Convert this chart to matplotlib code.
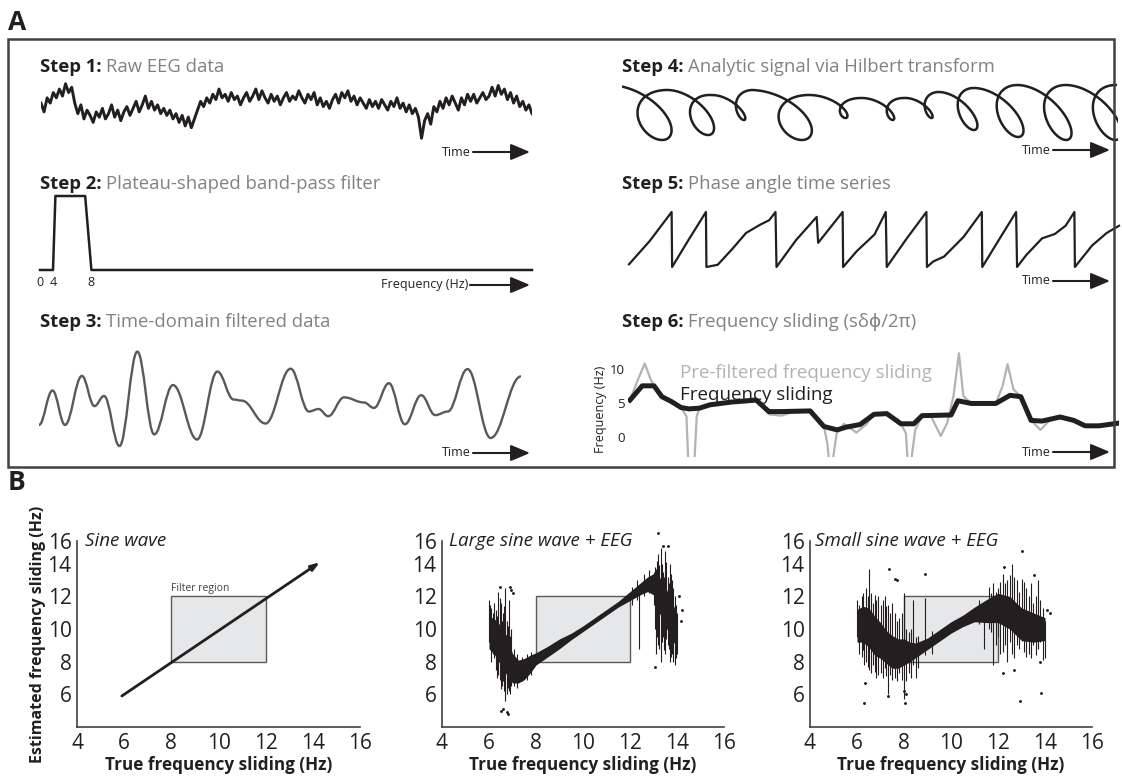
import numpy as np
import matplotlib
matplotlib.use('Agg')
import matplotlib.pyplot as plt
from matplotlib.patches import Rectangle, PathPatch, FancyArrowPatch
from matplotlib.path import Path
from matplotlib.text import Annotation

plt.rcParams['font.family'] = ['Open Sans', 'DejaVu Sans']

W, H = 1122, 777
INK = '#231f20'
GREY_TXT = '#808285'

# ---- panel A data (schematic signals) ----
# step 1: raw EEG, evenly sampled over the time window
eeg = [1.0, -1.5, 2.5, 1.0, 4.0, 2.5, 5.0, 3.0, 6.5, 4.0,
       5.5, 1.0, -2.0, 0.5, -3.5, -1.0, -2.5, -4.5, -1.5, -3.0,
       -0.5, -3.5, -2.0, 0.5, -3.0, -1.0, -4.0, -1.5, 0.0, -2.5,
       -0.5, 1.5, -1.5, 0.5, 3.0, -0.5, 1.5, -1.0, 0.5, -2.0,
       -0.5, -2.5, -1.0, -3.5, -2.0, -4.5, -2.5, -5.5, -3.0, -6.0,
       -3.5, -1.0, 1.5, 0.0, 2.5, 1.0, 3.5, 2.0, 5.0, 2.5,
       3.5, 1.5, 4.0, 2.0, 3.0, 0.5, 2.5, 4.0, 1.5, 3.0,
       5.0, 2.0, 4.5, 2.5, 1.0, 3.5, 1.5, 3.0, 0.5, 2.5,
       4.0, 1.5, 3.0, 2.0, 4.5, 2.5, 1.0, 3.5, 2.0, 4.0,
       0.5, 2.5, 0.0, 1.5, -0.5, 2.0, 3.5, 1.0, 4.0, 2.5,
       4.5, 1.5, 3.0, 0.5, 2.5, 1.0, -0.5, 2.0, 0.0, 1.5,
       -0.5, 2.0, 0.5, -1.0, 1.5, 0.0, 2.5, -0.5, 1.0, -1.5,
       0.5, -2.0, -0.5, -3.0, -9.0, -4.0, -2.0, -5.0, 0.0, -1.5,
       1.5, -0.5, 2.5, 0.5, 3.0, 1.0, -1.0, 2.5, 0.5, 3.5,
       1.5, 3.5, 1.0, 2.5, 4.0, 2.0, 3.0, 5.5, 3.0, 6.0,
       3.5, 5.0, 2.0, 4.0, 1.0, 3.0, 0.0, 1.5, -1.0, 0.5,
       -2.0]

# step 2: band-pass filter shape
filt_freq = [0, 4.0, 4.25, 7.35, 8.0, 53.9]
filt_gain = [0, 0, 1, 1, 0, 0]
filt_ticks = [0, 4, 8]

# step 3: filtered data, successive extrema
wave_t = [0, 2.8, 5.4, 8.9, 11.5, 13.5, 16.7, 20.4, 23.9, 27.8,
          32.8, 37.0, 40.4, 42.1, 47.0, 52.2, 56.0, 58.0, 60.0, 63.3,
          67.4, 69.5, 72.6, 75.9, 79.3, 82.2, 84.8, 88.9, 93.7, 100]
wave_v = [-1.73, 1.43, -1.73, 2.77, 0.0, 0.93, -3.67, 5.0, -2.6, 1.93,
          -3.07, 3.17, 0.6, 0.5, -1.6, 3.43, -0.5, -0.27, -0.93, 0.8,
          0.33, -0.17, 2.1, -1.67, 1.0, -0.83, -0.5, 3.4, -2.93, 2.73]

# step 4: analytic signal loops (cycle edges, arc heights, loop bottoms, loop widths)
loop_edges = [0, 11.3, 19.4, 28.2, 39.5, 49.6, 58.1, 65.5, 73.0, 82.1, 91.9, 102.0]
loop_top = [55, 50, 45, 50, 45, 42, 42, 48, 52, 55, 55, 55]
loop_bottom = [0, 5, 20, 0, 22, 20, 22, 10, 3, 0, 0]
loop_xamp = [5.6, 3.9, 2.4, 5.6, 2.7, 2.3, 2.0, 3.1, 4.1, 4.3, 4.5]
loop_shear = 0.45

# step 5: phase angle (rad)
saw_t = [0, 4.2, 8.7, 8.8, 12.2, 15.7, 15.8, 18.1, 21.0, 23.9,
         26.8, 28.6, 29.9, 30.1, 34.1, 38.3, 38.6, 43.6, 43.7, 46.5,
         50.1, 52.4, 52.6, 56.7, 60.7, 60.8, 62.1, 64.3, 68.3, 72.0,
         72.1, 75.6, 79.0, 79.2, 81.1, 84.3, 86.9, 89.1, 90.9, 91.0,
         94.5, 97.5, 100]
saw_phase = [-2.83, -0.19, 3.14, -3.14, 0.0, 3.14, -3.14, -2.89, -1.13, 0.75,
             1.70, 2.20, 3.14, -3.14, -0.06, 2.58, -0.38, 3.14, -3.14, -1.32,
             0.57, 3.14, -3.14, 0.13, 3.14, -3.14, -2.51, -1.95, 0.31, 3.14,
             -3.14, 0.06, 3.14, -3.14, -1.76, 0.13, 0.63, 1.57, 3.14, -3.14,
             -0.69, 0.75, 1.57]

# step 6: frequency sliding (Hz)
fs_t = [0.4, 2.9, 5.3, 6.9, 8.8, 10.8, 12.4, 14.5, 16.7, 21.0,
        26.1, 28.7, 31.2, 37.1, 39.9, 42.6, 44.4, 47.3, 50.1, 52.7,
        55.6, 58.2, 59.9, 65.8, 67.2, 69.9, 74.9, 77.8, 80.0, 82.1,
        84.3, 88.0, 90.8, 93.1, 95.9, 100]
fs_hz = [5.4, 7.5, 7.5, 5.9, 5.2, 4.3, 4.1, 4.2, 4.7, 5.1,
         5.4, 3.7, 3.7, 3.8, 1.5, 1.0, 1.4, 1.8, 3.3, 3.4,
         1.9, 1.9, 3.1, 3.2, 5.3, 4.9, 4.9, 6.1, 5.9, 2.4,
         2.3, 2.9, 2.4, 1.6, 1.6, 2.0]
pf_t = [0.4, 1.8, 3.4, 4.6, 5.3, 6.9, 8.8, 10.8, 11.9, 12.3,
        13.5, 14.0, 14.5, 16.7, 21.0, 25.4, 26.1, 28.7, 31.2, 33.5,
        37.1, 39.9, 40.6, 41.0, 41.6, 42.5, 44.0, 46.5, 48.5, 50.1,
        52.7, 55.6, 56.6, 57.0, 57.6, 58.5, 59.9, 61.5, 63.7, 65.0,
        66.3, 67.4, 68.3, 69.9, 74.9, 76.3, 77.3, 78.5, 80.0, 82.1,
        84.0, 86.0, 88.0, 90.8, 93.1, 95.9, 100]
pf_hz = [5.4, 8.0, 10.8, 8.5, 7.5, 5.9, 5.2, 4.3, 3.0, -4,
         -4, 3.0, 4.2, 4.7, 5.1, 5.6, 5.4, 3.3, 3.1, 3.6,
         3.8, 1.5, -1.0, -4, -4, 0.5, 1.9, 0.6, 1.8, 3.3,
         3.4, 1.9, 0.5, -4, -4, 1.0, 3.1, 3.3, 0.1, 2.0,
         6.0, 12.3, 6.0, 4.9, 4.9, 7.5, 10.7, 7.0, 5.9, 2.4,
         1.0, 2.5, 2.9, 2.4, 1.6, 1.6, 2.0]

# ---- panel B data ----
b_titles = ['Sine wave', 'Large sine wave + EEG', 'Small sine wave + EEG']
x_ticks = [4, 6, 8, 10, 12, 14, 16]
y_ticks = [6, 8, 10, 12, 14]
filt_lo, filt_hi = 8, 12
sine_true = [5.9, 14.3]
sine_est = [5.9, 14.1]

core2_x = [6.0, 6.25, 6.5, 6.75, 7.0, 7.25, 7.5, 7.75, 8.0, 8.5,
           9.0, 9.5, 10.0, 10.5, 11.0, 11.5, 12.0, 12.25, 12.5, 12.75,
           13.0, 13.25, 13.5, 13.75, 14.0]
core2_lo = [8.8, 8.4, 7.8, 7.2, 6.7, 6.7, 6.9, 7.3, 7.8, 8.3,
            8.8, 9.35, 9.85, 10.35, 10.85, 11.35, 11.75, 11.95, 12.15, 12.3,
            12.1, 11.0, 10.2, 9.5, 8.8]
core2_hi = [10.8, 10.6, 10.2, 9.6, 8.5, 8.1, 8.2, 8.4, 8.55, 8.95,
            9.4, 9.75, 10.2, 10.7, 11.2, 11.7, 12.3, 12.6, 12.9, 13.2,
            13.4, 13.2, 12.6, 11.8, 10.9]
streak2_x = [6.0, 6.05, 6.1, 6.15, 6.2, 6.3, 6.35, 6.4, 6.45, 6.5,
             6.55, 6.6, 6.65, 6.7, 6.75, 6.8, 6.85, 6.9, 6.95, 7.05,
             7.2, 7.4, 7.6, 7.8, 12.1, 12.3, 12.4, 12.6, 12.8, 13.0,
             13.05, 13.1, 13.15, 13.2, 13.25, 13.3, 13.35, 13.4, 13.45, 13.5,
             13.55, 13.6, 13.65, 13.7, 13.75, 13.8, 13.85, 13.9, 13.95, 14.0]
streak2_lo = [9.2, 9.0, 8.0, 8.5, 8.2, 7.5, 7.0, 7.2, 6.9, 6.3,
              6.5, 6.8, 6.2, 5.6, 6.0, 6.4, 6.2, 6.0, 6.5, 6.5,
              6.4, 6.8, 6.9, 7.2, 11.5, 11.8, 8.8, 12.0, 12.2, 11.5,
              10.0, 8.5, 9.5, 9.0, 8.8, 8.0, 9.2, 9.5, 8.7, 8.5,
              9.4, 9.0, 8.8, 8.0, 8.3, 8.5, 8.0, 7.8, 8.2, 8.5]
streak2_hi = [11.8, 11.5, 11.3, 11.0, 11.6, 11.2, 10.8, 12.3, 11.9, 11.6,
              10.5, 11.0, 11.4, 12.5, 10.5, 10.2, 11.8, 9.6, 10.0, 8.8,
              8.5, 8.3, 8.5, 8.6, 12.6, 13.0, 12.5, 13.4, 13.6, 13.5,
              13.8, 13.7, 14.2, 14.6, 13.9, 15.0, 14.0, 13.5, 13.2, 14.8,
              14.1, 13.2, 12.8, 14.0, 13.4, 13.0, 12.5, 12.0, 11.5, 11.0]
dots2_x = [6.5, 6.6, 6.75, 6.8, 6.95, 7.0, 13.2, 13.4, 13.6, 13.05,
           14.1, 14.2, 14.15, 6.9, 6.45]
dots2_y = [5.0, 5.1, 4.9, 4.8, 12.4, 12.2, 15.9, 15.1, 15.1, 7.7,
           12.0, 11.2, 10.5, 12.6, 12.6]

core3_x = [6.0, 6.25, 6.5, 6.75, 7.0, 7.25, 7.5, 7.75, 8.0, 8.25,
           8.5, 8.75, 9.0, 9.5, 10.0, 10.5, 11.0, 11.5, 12.0, 12.5,
           13.0, 13.5, 14.0]
core3_lo = [9.2, 9.2, 8.9, 8.4, 8.2, 7.9, 7.6, 7.6, 7.8, 8.0,
            8.25, 8.5, 8.75, 9.25, 9.75, 10.15, 10.45, 10.4, 10.4, 10.0,
            9.3, 9.2, 9.3]
core3_hi = [11.2, 11.4, 11.3, 10.8, 10.4, 9.9, 9.6, 9.4, 9.4, 9.2,
            9.15, 9.3, 9.45, 9.95, 10.45, 10.85, 11.35, 11.8, 12.2, 12.0,
            11.3, 11.0, 10.7]
streak3_x = [6.0, 6.1, 6.2, 6.25, 6.3, 6.4, 6.45, 6.5, 6.6, 6.7,
             6.75, 6.8, 6.9, 7.0, 7.1, 7.2, 7.25, 7.3, 7.4, 7.5,
             7.6, 7.7, 7.8, 7.9, 8.0, 8.1, 8.2, 8.3, 8.4, 8.5,
             8.6, 8.9, 9.2, 11.2, 11.4, 11.6, 11.7, 11.8, 11.9, 12.0,
             12.1, 12.2, 12.3, 12.4, 12.5, 12.6, 12.7, 12.8, 12.9, 13.0,
             13.1, 13.2, 13.3, 13.4, 13.5, 13.6, 13.7, 13.8, 13.9, 14.0]
streak3_lo = [9.5, 8.5, 8.3, 8.7, 7.8, 8.0, 7.7, 7.5, 7.3, 7.8,
              7.4, 7.0, 7.2, 7.3, 7.0, 7.6, 7.1, 6.0, 7.2, 6.9,
              7.0, 6.8, 7.3, 6.9, 5.7, 6.8, 7.3, 7.0, 7.8, 7.0,
              7.6, 8.4, 8.5, 10.3, 8.8, 10.0, 9.8, 7.8, 9.0, 9.5,
              8.5, 8.6, 9.0, 8.0, 9.2, 8.5, 8.2, 9.0, 8.8, 9.3,
              8.6, 8.3, 8.5, 8.2, 9.0, 8.4, 8.8, 9.2, 8.1, 8.2]
streak3_hi = [11.8, 11.5, 12.0, 12.2, 11.0, 12.5, 12.0, 13.7, 12.2, 11.6,
              12.1, 11.8, 12.0, 11.5, 11.8, 12.0, 11.4, 11.5, 11.0, 11.6,
              11.0, 10.5, 10.7, 11.0, 12.2, 10.0, 9.8, 10.0, 11.8, 9.5,
              9.6, 11.9, 9.9, 11.8, 11.6, 12.6, 12.2, 12.8, 12.3, 12.5,
              12.9, 13.4, 12.8, 13.0, 13.3, 14.0, 13.2, 13.0, 12.3, 13.1,
              12.9, 12.5, 12.0, 12.8, 11.6, 12.0, 13.0, 11.8, 11.3, 10.5]
dots3_x = [6.35, 6.3, 7.35, 7.6, 7.7, 8.9, 8.05, 8.1, 8.0, 12.95,
           13.0, 13.55, 13.85, 12.25, 7.3, 12.2, 12.7, 14.1, 14.2, 13.8]
dots3_y = [6.7, 5.5, 13.7, 13.1, 13.0, 13.4, 5.5, 6.0, 6.2, 5.6,
           14.8, 13.3, 6.1, 13.8, 5.9, 7.3, 7.5, 11.2, 11.0, 8.0]


fig = plt.figure(figsize=(W / 100, H / 100), dpi=100)


def px_axes(x0, y0, x1, y1):
    return fig.add_axes([x0 / W, 1 - y1 / H, (x1 - x0) / W, (y1 - y0) / H])


def ftext(x, y, s, **kw):
    return fig.text(x / W, 1 - y / H, s, **kw)


def step_title(x, y, head, rest):
    t = ftext(x, y, head, fontsize=13.3, fontweight='bold', color=INK, va='center')
    fig.add_artist(Annotation(rest, xy=(1, 0), xycoords=t, xytext=(3, 0),
                              textcoords='offset points', va='bottom', ha='left',
                              fontsize=13.3, color=GREY_TXT))


def time_arrow(x_txt, x_tip, y, label='Time', fs=9):
    ftext(x_txt, y, label, ha='right', va='center', fontsize=fs, color=INK)
    fig.add_artist(FancyArrowPatch(((x_txt + 2) / W, 1 - y / H), (x_tip / W, 1 - y / H),
                                   transform=fig.transFigure,
                                   arrowstyle='-|>,head_length=0.9,head_width=0.38',
                                   mutation_scale=13, lw=1.5, color=INK,
                                   shrinkA=0, shrinkB=0))


# panel labels and frame
ftext(8, 22, 'A', fontsize=19, fontweight='bold', va='center', color=INK)
ftext(8, 483, 'B', fontsize=19, fontweight='bold', va='center', color=INK)
fig.add_artist(Rectangle((8 / W, 1 - 467 / H), 1106 / W, 428 / H, transform=fig.transFigure,
                         fill=False, ec='#414042', lw=1.8))

# Step 1
step_title(40, 67, 'Step 1:', 'Raw EEG data')
ax1 = px_axes(41, 82, 532, 140)
ax1.plot(np.linspace(0, 100, len(eeg)), eeg, color=INK, lw=2.1)
ax1.set_xlim(0, 100)
ax1.set_ylim(-9.5, 7)
ax1.axis('off')
time_arrow(471, 530, 152)

# Step 2
step_title(40, 184, 'Step 2:', 'Plateau-shaped band-pass filter')
ax2 = px_axes(40, 196, 532, 270)
knots_hz = [0, 4, 60]
knots_px = [0, 13, 13 + 56 * 9.6]
ax2.set_xscale('function', functions=(lambda v: np.interp(v, knots_hz, knots_px),
                                      lambda v: np.interp(v, knots_px, knots_hz)))
ax2.plot(filt_freq, filt_gain, color=INK, lw=1.8, clip_on=False)
ax2.set_xlim(0, 53.9)
ax2.set_ylim(0, 1)
ax2.set_xticks(filt_ticks)
ax2.set_xticklabels([str(v) for v in filt_ticks])
ax2.set_yticks([])
ax2.tick_params(axis='x', length=0, labelsize=9, pad=4, colors=INK)
for s in ax2.spines.values():
    s.set_visible(False)
time_arrow(468, 530, 285, label='Frequency (Hz)')

# Step 3
step_title(40, 322, 'Step 3:', 'Time-domain filtered data')
ax3 = px_axes(39, 350, 521, 448)
verts = [(wave_t[0], wave_v[0])]
codes = [Path.MOVETO]
for i in range(1, len(wave_t)):
    x0, y0 = wave_t[i - 1], wave_v[i - 1]
    x1, y1 = wave_t[i], wave_v[i]
    d = (x1 - x0) / 2.6
    verts += [(x0 + d, y0), (x1 - d, y1), (x1, y1)]
    codes += [Path.CURVE4] * 3
ax3.add_patch(PathPatch(Path(verts, codes), fill=False, ec='#58595b', lw=1.7))
ax3.set_xlim(0, 100)
ax3.set_ylim(-3.85, 5.15)
ax3.axis('off')
time_arrow(471, 530, 453)

# Step 4
step_title(622, 67, 'Step 4:', 'Analytic signal via Hilbert transform')
ax4 = px_axes(622, 80, 1118, 145)
xs_all, ys_all = [], []
for k in range(len(loop_xamp)):
    th = np.linspace(-np.pi, np.pi, 200)
    frac = (th + np.pi) / (2 * np.pi)
    x0, x1 = loop_edges[k], loop_edges[k + 1]
    top = loop_top[k] + (loop_top[k + 1] - loop_top[k]) * frac
    depth = 0.5 * (loop_top[k] + loop_top[k + 1]) - loop_bottom[k]
    ys = top - depth * (1 + np.cos(th)) / 2
    xs = x0 + (x1 - x0) * frac - loop_xamp[k] * np.sin(th) - loop_shear * (ys - 28) / 4.96
    xs_all.append(xs)
    ys_all.append(ys)
ax4.plot(np.concatenate(xs_all), np.concatenate(ys_all), color=INK, lw=1.8)
ax4.set_xlim(0, 100)
ax4.set_ylim(-5, 60)
ax4.axis('off')
time_arrow(1051, 1110, 150)

# Step 5
step_title(622, 184, 'Step 5:', 'Phase angle time series')
ax5 = px_axes(629, 212, 1119, 267)
ax5.plot(saw_t, saw_phase, color=INK, lw=1.6, clip_on=False)
ax5.set_xlim(0, 100)
ax5.set_ylim(-np.pi, np.pi)
ax5.axis('off')
time_arrow(1051, 1110, 281)

# Step 6
step_title(622, 322, 'Step 6:', 'Frequency sliding (sδϕ/2π)')
ax6 = px_axes(628, 335, 1119, 457)
ax6.plot(pf_t, pf_hz, color='#b3b3b3', lw=1.6)
ax6.plot(fs_t, fs_hz, color=INK, lw=3.6, solid_joinstyle='round')
ax6.text(10.5, 9.35, 'Pre-filtered frequency sliding', fontsize=13.5, color='#b3b3b3', va='center')
ax6.text(10.5, 6.2, 'Frequency sliding', fontsize=13.5, color=INK, va='center')
ax6.set_xlim(0, 100)
ax6.set_ylim(-3, 15)
ax6.set_xticks([])
ax6.set_yticks([0, 5, 10])
ax6.tick_params(axis='y', length=0, labelsize=9.5, pad=2, colors=INK)
ax6.set_ylabel('Frequency (Hz)', fontsize=9, color=INK)
ax6.yaxis.set_label_coords(-0.042, 0.39)
for s in ax6.spines.values():
    s.set_visible(False)
time_arrow(1051, 1110, 452)

# ---- panel B ----
b_boxes = [(77, 541, 360, 727), (442, 541, 724, 727), (810, 541, 1092, 727)]
title_x = [4.35, 4.3, 4.2]
b_axes = []
for i, bx in enumerate(b_boxes):
    ax = px_axes(*bx)
    b_axes.append(ax)
    ax.add_patch(Rectangle((filt_lo, filt_lo), filt_hi - filt_lo, filt_hi - filt_lo,
                           fc='#e6e7e8', ec='#58595b', lw=1.0, zorder=1))
    ax.set_xlim(4, 16)
    ax.set_ylim(4, 15.4)
    ax.set_xticks(x_ticks)
    ax.set_xticklabels([str(v) for v in x_ticks])
    ax.set_yticks(y_ticks + [15.4])
    ax.set_yticklabels([str(v) for v in y_ticks] + ['16'])
    ax.tick_params(length=0, labelsize=15, pad=4, colors=INK)
    ax.spines['top'].set_visible(False)
    ax.spines['right'].set_visible(False)
    for s in ('left', 'bottom'):
        ax.spines[s].set_color('#414042')
        ax.spines[s].set_linewidth(1.2)
    ax.set_xlabel('True frequency sliding (Hz)', fontsize=12.3, fontweight='bold', color=INK)
    ax.xaxis.set_label_coords(0.5, -0.205)
    ax.xaxis.label.set_va('center')
    ax.text(title_x[i], 15.4, b_titles[i], fontsize=13.5, style='italic', va='center', color=INK)

axb1, axb2, axb3 = b_axes
axb1.set_ylabel('Estimated frequency sliding (Hz)', fontsize=11.5, fontweight='bold', color=INK)
axb1.yaxis.set_label_coords(-0.11, 0.5)
axb1.text(filt_lo, filt_hi + 0.15, 'Filter region', fontsize=7.5, color='#414042', va='bottom')
axb1.annotate('', xy=(sine_true[1], sine_est[1]), xytext=(sine_true[0], sine_est[0]),
              arrowprops=dict(arrowstyle='-|>,head_length=0.5,head_width=0.17',
                              lw=2, color=INK, shrinkA=0, shrinkB=0), zorder=3)

for ax, cx, clo, chi, sx, slo, shi, dx, dy in [
        (axb2, core2_x, core2_lo, core2_hi, streak2_x, streak2_lo, streak2_hi, dots2_x, dots2_y),
        (axb3, core3_x, core3_lo, core3_hi, streak3_x, streak3_lo, streak3_hi, dots3_x, dots3_y)]:
    ax.vlines(sx, slo, shi, colors=INK, lw=0.8, zorder=2)
    ax.fill_between(cx, clo, chi, color=INK, lw=0, zorder=3)
    ax.scatter(dx, dy, s=1.2, color=INK, zorder=3, clip_on=False)

fig.savefig('out.png', dpi=100)
